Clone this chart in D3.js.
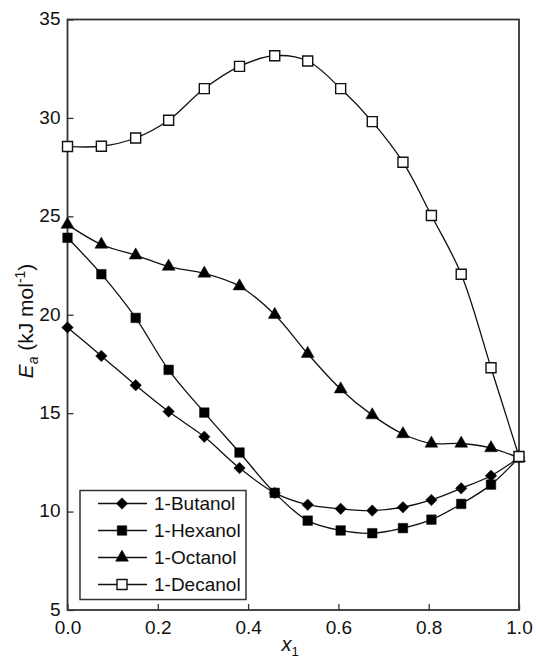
<!DOCTYPE html>
<html><head><meta charset="utf-8">
<script src="https://cdn.jsdelivr.net/npm/d3@7"></script>
<style>body{margin:0;background:#fff}svg{display:block;font-family:"Liberation Sans",Arial,sans-serif}</style>
</head><body><svg id="c" width="536" height="659"></svg>
<script>
const xValues = [0, 0.075, 0.151, 0.224, 0.303, 0.381, 0.459, 0.532, 0.605, 0.675, 0.743, 0.806, 0.872, 0.938, 1.0];
const butanol = [19.35, 17.91, 16.42, 15.08, 13.80, 12.21, 10.95, 10.35, 10.14, 10.05, 10.22, 10.59, 11.18, 11.82, 12.75];
const hexanol = [23.91, 22.06, 19.84, 17.20, 15.03, 13.00, 10.95, 9.54, 9.04, 8.90, 9.16, 9.59, 10.39, 11.37, 12.75];
const octanol = [24.58, 23.57, 23.02, 22.45, 22.10, 21.45, 20.00, 18.02, 16.22, 14.90, 13.94, 13.46, 13.46, 13.23, 12.72];
const decanol = [28.55, 28.56, 28.98, 29.88, 31.49, 32.62, 33.16, 32.89, 31.49, 29.81, 27.75, 25.04, 22.06, 17.31, 12.80];
const seriesNames = ["1-Butanol", "1-Hexanol", "1-Octanol", "1-Decanol"];
const xTicks = [0, 0.2, 0.4, 0.6, 0.8, 1.0];
const yTicks = [5, 10, 15, 20, 25, 30, 35];

const series = [
  {name: seriesNames[0], values: butanol, sym: d3.symbolSquare, size: 66, rot: 45, fill: "#000"},
  {name: seriesNames[1], values: hexanol, sym: d3.symbolSquare, size: 92, rot: 0, fill: "#000"},
  {name: seriesNames[2], values: octanol, sym: d3.symbolTriangle, size: 72, rot: 0, fill: "#000"},
  {name: seriesNames[3], values: decanol, sym: d3.symbolSquare, size: 100, rot: 0, fill: "#fff"}
];

const FONT = '"Liberation Sans",Arial,sans-serif';
const svg = d3.select("#c");
const L = 67.5, R = 519, T = 19.5, B = 610;
const x = d3.scaleLinear().domain([0, 1]).range([L, R]);
const y = d3.scaleLinear().domain([5, 35]).range([B, T]);

const ax = svg.append("g").attr("transform", `translate(0,${B})`)
  .call(d3.axisBottom(x).tickValues(xTicks).tickSize(-6).tickPadding(11).tickFormat(d3.format(".1f")));
const ay = svg.append("g").attr("transform", `translate(${L},0)`)
  .call(d3.axisLeft(y).tickValues(yTicks).tickSize(-6).tickPadding(7).tickFormat(d3.format("d")));
[ax, ay].forEach(g => {
  g.select(".domain").remove();
  g.selectAll("line").attr("stroke", "#333").attr("stroke-width", 1.3);
  g.selectAll("text").attr("font-size", 19).attr("fill", "#111").attr("font-family", FONT);
});
ax.selectAll("text").attr("dy", "0.66em");
ay.selectAll("text").attr("dy", "0.28em");

svg.append("rect").attr("x", L).attr("y", T).attr("width", R - L).attr("height", B - T)
  .attr("fill", "none").attr("stroke", "#333").attr("stroke-width", 1.8);

const line = d3.line().x(d => x(d[0])).y(d => y(d[1])).curve(d3.curveCatmullRom.alpha(0.5));

series.forEach(s => {
  const pts = xValues.map((xv, i) => [xv, s.values[i]]);
  svg.append("path").datum(pts).attr("d", line).attr("fill", "none").attr("stroke", "#111").attr("stroke-width", 1.3);
});
series.forEach(s => {
  const pts = xValues.map((xv, i) => [xv, s.values[i]]);
  svg.append("g").selectAll("path").data(pts).join("path")
    .attr("transform", d => `translate(${x(d[0])},${y(d[1])}) rotate(${s.rot})`)
    .attr("d", d3.symbol().type(s.sym).size(s.size))
    .attr("fill", s.fill).attr("stroke", "#111").attr("stroke-width", s.fill === "#fff" ? 1.4 : 0.5);
});

const lg = svg.append("g");
lg.append("rect").attr("x", 80).attr("y", 490.5).attr("width", 166).attr("height", 109)
  .attr("fill", "#fff").attr("stroke", "#333").attr("stroke-width", 1.5);
series.forEach((s, i) => {
  const cy = 503.5 + i * 27;
  lg.append("line").attr("x1", 98).attr("x2", 147).attr("y1", cy).attr("y2", cy).attr("stroke", "#111").attr("stroke-width", 1.3);
  lg.append("path").attr("transform", `translate(122,${cy}) rotate(${s.rot})`).attr("d", d3.symbol().type(s.sym).size(s.size))
    .attr("fill", s.fill).attr("stroke", "#111").attr("stroke-width", s.fill === "#fff" ? 1.4 : 0.5);
  lg.append("text").attr("x", 154).attr("y", cy).attr("dy", "0.36em").attr("font-size", 19).attr("fill", "#111").text(s.name);
});

const xt = svg.append("text").attr("x", 290).attr("y", 651).attr("text-anchor", "middle").attr("font-size", 20).attr("fill", "#111");
xt.append("tspan").attr("font-style", "italic").text("x");
xt.append("tspan").attr("font-size", 13).attr("dy", 5).text("1");

const yt = svg.append("text").attr("transform", "translate(33,321) rotate(-90)").attr("text-anchor", "middle").attr("font-size", 21).attr("fill", "#111");
yt.append("tspan").attr("font-style", "italic").text("E");
yt.append("tspan").attr("font-style", "italic").attr("font-size", 14).attr("dy", 5).text("a");
yt.append("tspan").attr("dy", -5).text(" (kJ mol");
yt.append("tspan").attr("font-size", 14).attr("dy", -8).text("-1");
yt.append("tspan").attr("dy", 8).text(")");
</script></body></html>
